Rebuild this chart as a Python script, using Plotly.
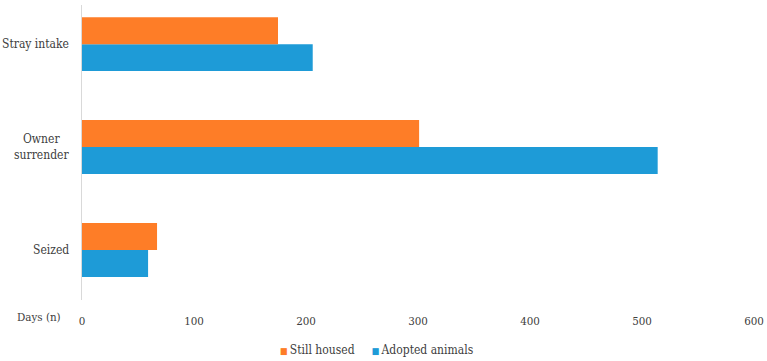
import plotly.graph_objects as go

categories = ["Seized", "Owner surrender", "Stray intake"]
category_labels = ["Seized", "Owner<br>surrender", "Stray intake"]
still_housed = [67, 301, 175]
adopted = [59, 514, 206]
x_ticks = [0, 100, 200, 300, 400, 500, 600]
series_names = ["Still housed", "Adopted animals"]
series_colors = ["#FE7D27", "#1E9BD7"]

FONT = "DejaVu Serif Condensed, DejaVu Serif"
TXT = "#404040"

fig = go.Figure()
fig.add_trace(go.Bar(y=categories, x=adopted, orientation="h", name=series_names[1],
                     marker=dict(color=series_colors[1], line=dict(width=0))))
fig.add_trace(go.Bar(y=categories, x=still_housed, orientation="h", name=series_names[0],
                     marker=dict(color=series_colors[0], line=dict(width=0))))

for c, lab in zip(categories, category_labels):
    fig.add_annotation(x=0, y=c, xref="x", yref="y", text=lab, showarrow=False,
                       xanchor="right", yanchor="middle", align="center", xshift=-11,
                       font=dict(family=FONT, size=12, color=TXT))

fig.add_annotation(x=0, y=0, xref="paper", yref="paper", text="Days (n)", showarrow=False,
                   xanchor="right", yanchor="middle", xshift=-19, yshift=-17,
                   font=dict(family=FONT, size=11.5, color=TXT))

legend_text = "&nbsp;&nbsp;&nbsp;&nbsp;&nbsp;".join(
    f"<span style='color:{col}; font-size:9px'>■</span>&#8201;{name}"
    for name, col in zip(series_names, series_colors))
fig.add_annotation(x=0.5, y=-50/295, xref="paper", yref="paper", text=legend_text, showarrow=False,
                   xanchor="center", yanchor="middle", xshift=-42,
                   font=dict(family=FONT, size=12, color=TXT))

fig.update_layout(
    width=767, height=361,
    margin=dict(l=82, r=13, t=5, b=61, autoexpand=False),
    paper_bgcolor="white", plot_bgcolor="white",
    barmode="group", bargap=0.476, bargroupgap=0,
    font=dict(family=FONT, size=11.5, color=TXT),
    showlegend=False,
    xaxis=dict(range=[0, 600], tickvals=x_ticks, showgrid=False, zeroline=False,
               showline=False, ticks="", ticklabelstandoff=12,
               tickfont=dict(family=FONT, size=11.5, color=TXT)),
    yaxis=dict(range=[-0.485, 2.38], showticklabels=False, showgrid=False, zeroline=False,
               showline=True, linecolor="#d9d9d9", linewidth=1, ticks=""),
)

fig.write_html("out.html")
